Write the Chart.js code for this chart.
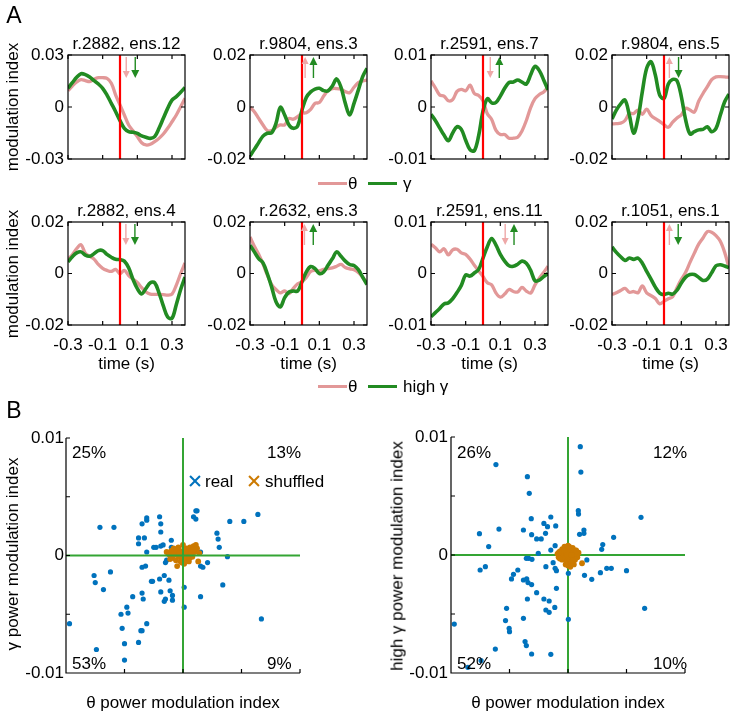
<!DOCTYPE html>
<html><head><meta charset="utf-8">
<script src="https://cdn.jsdelivr.net/npm/chart.js@4.4.1/dist/chart.umd.min.js"></script>
<style>
html,body{margin:0;padding:0;background:#fff;}
#wrap{position:relative;width:734px;height:715px;overflow:hidden;font-family:"Liberation Sans",Arial,sans-serif;color:#000;}
canvas.full{position:absolute;left:0;top:0;}
.t{position:absolute;font-size:17px;white-space:nowrap;line-height:1;}
.c{transform:translate(-50%,-50%);}
.l{transform:translate(0,-50%);}
.r{transform:translate(-50%,-50%) rotate(-90deg);}
.big{font-size:23px;}
.lg{position:absolute;height:3px;}
.xm{position:absolute;width:12px;height:12px;transform:translate(-50%,-50%);}
.xm:before,.xm:after{content:'';position:absolute;left:-1px;top:5px;width:14px;height:2px;background:currentColor;}
.xm:before{transform:rotate(45deg);} .xm:after{transform:rotate(-45deg);}
</style></head>
<body><div id="wrap"></div>
<script>
// ---------------- DATA ----------------
const time = [-0.3,-0.275,-0.25,-0.225,-0.2,-0.175,-0.15,-0.125,-0.1,-0.075,-0.05,-0.025,0,0.025,0.05,0.075,0.1,0.125,0.15,0.175,0.2,0.225,0.25,0.275,0.3,0.325,0.35,0.375];
const xTickValues = [-0.3,-0.1,0.1,0.3];
const panelTitles = ['r.2882, ens.12','r.9804, ens.3','r.2591, ens.7','r.9804, ens.5','r.2882, ens.4','r.2632, ens.3','r.2591, ens.11','r.1051, ens.1'];
const yLimits = [0.03,0.02,0.01,0.02,0.02,0.02,0.01,0.02];

const theta1 = [0.0094,0.0121,0.0144,0.0158,0.0152,0.0146,0.016,0.0169,0.0169,0.0165,0.0137,0.0069,0.0012,-0.0046,-0.0104,-0.0137,-0.0171,-0.0206,-0.0219,-0.0215,-0.02,-0.0181,-0.0156,-0.0123,-0.0085,-0.0046,0.0002,0.005];
const gamma1 = [0.0108,0.014,0.0171,0.0192,0.0187,0.0173,0.0152,0.0133,0.0108,0.0069,0.0021,-0.0027,-0.0079,-0.0123,-0.0142,-0.0146,-0.0152,-0.0167,-0.0175,-0.0181,-0.0171,-0.0123,-0.0065,-0.0008,0.004,0.006,0.0085,0.0113];
const theta2 = [-0.0001,-0.0018,-0.0044,-0.0069,-0.0091,-0.0091,-0.0078,-0.0069,-0.0069,-0.0044,-0.0047,-0.0037,-0.0024,-0.0022,-0.0009,0.0014,0.0017,0.0042,0.0063,0.0071,0.0071,0.0068,0.0059,0.0055,0.0076,0.0094,0.01,0.0104];
const gamma2 = [-0.0188,-0.0163,-0.0137,-0.0112,-0.0101,-0.0099,-0.0063,-0.0001,-0.0031,-0.0069,-0.0082,-0.0073,-0.0012,0.0037,0.0058,0.0069,0.0072,0.0063,0.0062,0.0081,0.0108,0.0076,0.0014,-0.0031,0.0014,0.0065,0.0117,0.0149];
const theta3 = [0.005,0.0037,0.0023,0.0021,0.0012,0.0014,0.003,0.0034,0.0031,0.0042,0.0026,0.0022,0.0012,-0.0013,-0.0024,-0.0045,-0.0053,-0.0053,-0.006,-0.006,-0.0058,-0.0046,-0.0026,-0.0001,0.0016,0.0024,0.0029,0.0038];
const gamma3 = [-0.0014,-0.0026,-0.004,-0.0054,-0.0065,-0.005,-0.0038,-0.0043,-0.0064,-0.0082,-0.0084,-0.0055,-0.0008,0.0016,0.0008,0.0009,0.0021,0.0036,0.0047,0.0048,0.0052,0.0048,0.0044,0.0062,0.0078,0.007,0.0052,0.0033];
const theta4 = [-0.0065,-0.0064,-0.0062,-0.0052,-0.0025,-0.0025,-0.0012,-0.0028,-0.0008,-0.0032,-0.0045,-0.0055,-0.0068,-0.0078,-0.0058,-0.0042,-0.003,-0.0005,-0.0012,-0.002,0.0022,0.0052,0.0078,0.0105,0.0116,0.0117,0.0116,0.0114];
const gamma4 = [-0.0046,-0.0012,0.0012,0.0027,-0.0031,-0.0101,-0.0044,0.0059,0.0149,0.0174,0.0123,0.0046,0.0033,0.0088,0.0106,0.0101,0.004,-0.005,-0.0104,-0.0095,-0.0088,-0.0086,-0.0076,-0.0095,-0.0082,-0.0031,0.002,0.005];
const theta5 = [0.0055,0.0073,0.0097,0.0112,0.0079,0.0067,0.0056,0.0035,0.002,0.0012,0.0008,0.0016,-0.0001,0.0012,-0.0008,-0.0022,-0.0035,-0.0055,-0.0072,-0.008,-0.0081,-0.0081,-0.0082,-0.0084,-0.008,-0.0045,0.0,0.0041];
const gamma5 = [0.0045,0.0065,0.008,0.0084,0.0071,0.0067,0.0077,0.0089,0.0089,0.0074,0.0063,0.0055,0.0054,0.0048,0.0022,-0.0023,-0.0059,-0.0079,-0.0058,-0.0036,-0.0036,-0.0075,-0.0126,-0.0169,-0.0174,-0.012,-0.0062,-0.0014];
const theta6 = [0.0142,0.0106,0.0075,0.0037,-0.0006,-0.0043,-0.0062,-0.0075,-0.0068,-0.0078,-0.0058,-0.004,-0.0032,-0.0015,0.0008,0.0012,0.001,0.0016,0.0019,0.0022,0.0028,0.0035,0.0023,0.0018,0.0015,0.0004,-0.0015,-0.0036];
const gamma6 = [0.011,0.0084,0.0058,0.0041,-0.0001,-0.0053,-0.011,-0.013,-0.0094,-0.0072,-0.0068,-0.0068,-0.0032,0.0006,0.0027,0.0019,0.0,0.0006,0.0032,0.0057,0.0084,0.0067,0.0048,0.0035,0.0031,0.0015,-0.0014,-0.0043];
const theta7 = [0.0057,0.005,0.0042,0.0048,0.0036,0.0046,0.0047,0.004,0.0037,0.0028,0.0016,0.0005,-0.0006,-0.0018,-0.0022,-0.0038,-0.0046,-0.004,-0.0031,-0.0035,-0.0036,-0.0027,-0.0034,-0.0038,-0.0022,-0.0009,0.0002,0.0014];
const gamma7 = [-0.0084,-0.0076,-0.0068,-0.0059,-0.0057,-0.0049,-0.0037,-0.0023,-0.0003,-0.0005,0.0001,0.0008,0.003,0.0052,0.0068,0.0055,0.0037,0.0024,0.0015,0.0014,0.0018,0.0024,0.002,0.0006,-0.0014,-0.0013,-0.0006,0.0];
const theta8 = [-0.0082,-0.0075,-0.0066,-0.0058,-0.0073,-0.007,-0.0075,-0.0048,-0.0075,-0.0086,-0.0097,-0.0118,-0.0108,-0.0098,-0.009,-0.0055,-0.0023,0.0005,0.0043,0.0079,0.0114,0.0138,0.0163,0.016,0.0147,0.0125,0.0082,0.0022];
const gamma8 = [0.0103,0.0082,0.0065,0.0051,0.006,0.0055,0.006,0.004,0.0008,-0.0022,-0.0053,-0.0076,-0.0082,-0.0077,-0.008,-0.0065,-0.0037,-0.0014,-0.0004,-0.0004,-0.0015,-0.0027,-0.0022,0.0003,0.003,0.0034,0.0029,0.0022];

const thetaArrowTime = [0.036,0.018,0.042,0.031,0.034,0.014,0.128,0.031];
const gammaArrowTime = [0.088,0.066,0.094,0.084,0.086,0.065,0.179,0.082];
const thetaArrowDir = ['down','up','down','up','down','up','down','up'];
const gammaArrowDir = ['down','up','up','down','down','up','up','down'];

const legendTopLabels = ['θ','γ'];
const legendBottomLabels = ['θ','high γ'];

// scatter B (left: theta vs gamma, right: theta vs high gamma)
const realThetaL = [-0.0097,-0.0071,-0.0059,-0.0076,-0.0075,-0.0068,-0.0062,-0.0074,-0.0053,-0.0048,
 -0.0047,-0.0052,-0.005,-0.005,-0.0043,-0.0038,-0.0036,-0.0035,-0.0031,-0.0035,
 -0.0034,-0.0035,-0.0032,-0.0038,-0.0038,-0.0033,-0.0035,-0.0031,-0.0031,-0.0031,
 -0.0025,-0.0023,-0.002,-0.0019,-0.0019,-0.0019,-0.0017,-0.0027,-0.0026,-0.002,
 -0.0016,-0.0019,-0.0016,-0.0015,-0.0011,-0.0009,-0.0009,-0.0012,-0.0015,-0.0014,
 -0.001,-0.001,0.0001,0.0001,0.0011,0.0012,0.0009,0.0011,0.0015,0.0015,
 0.0015,0.0017,0.0021,0.0029,0.003,0.0031,0.0038,0.0034,0.004,0.0052,0.0064,0.0067];
const realGammaL = [-0.0058,0.0024,0.0024,-0.0017,-0.0023,-0.0029,-0.0014,-0.008,-0.005,-0.0044,
 -0.0049,-0.0062,-0.0075,-0.0089,-0.0035,-0.0074,-0.0064,-0.0064,-0.0058,-0.0032,
 -0.0037,-0.001,-0.0009,0.0015,0.001,0.0015,0.0027,0.0032,0.003,0.0003,
 0.0007,0.0007,0.0033,0.0027,0.002,0.0008,0.0009,-0.0022,-0.0022,-0.002,
 -0.0017,-0.0031,-0.0039,-0.0037,-0.003,-0.0038,-0.0034,-0.0021,-0.0006,-0.0004,
 0.0013,0.0007,-0.0027,-0.0044,0.0038,0.0038,0.0033,0.0031,0.0003,-0.0035,
 -0.0009,-0.001,-0.0006,0.0019,0.0014,0.0007,-0.0001,-0.0025,0.0029,0.0029,0.0035,-0.0054];
const shufThetaL = [-0.0014,-0.0012,-0.001,-0.0009,-0.0008,-0.0007,-0.0006,-0.0005,-0.0005,-0.0004,
 -0.0003,-0.0003,-0.0002,-0.0001,0,0,0.0001,0.0001,0.0002,0.0003,
 0.0003,0.0004,0.0005,0.0005,0.0006,0.0007,0.0008,0.0009,0.001,0.0011,
 0.0012,0.0013,-0.0002,0,0.0002,-0.0001,0.0006,-0.0006,0.0014,-0.0011,0.0008,
 -0.0004,0.0004,-0.0008,0.0001,0.0007,-0.0003,0.0002,0.0009];
const shufGammaL = [0.0003,0.0001,0.0004,-0.0002,0.0006,0.0001,-0.0004,0.0003,-0.0009,0.0007,
 -0.0001,0.0004,-0.0005,0.0002,0.0009,-0.0003,0.0005,-0.0007,0.0001,-0.0003,
 0.0006,0.0002,-0.0005,0.0004,0.0007,0.0001,0.0005,0.0008,0.0003,0.0009,
 0.0006,-0.0005,0,0.0001,-0.0001,-0.0006,-0.0002,0.0005,0.0002,-0.0003,-0.0001,
 0,0,0.0002,-0.0002,0.0003,0.0002,0.0003,0.0005];

const realThetaR = [0.00105,0.0011,-0.00616,-0.00347,-0.00331,0.00088,0.0009,0.00624,-0.00314,-0.00147,
 -0.00206,-0.00175,-0.00105,-0.0059,-0.00381,-0.00757,-0.00311,-0.00192,0.00136,0.00136,
 0.00099,0.0039,-0.00268,-0.00229,-0.00678,0.00297,0.00288,-0.00254,-0.00147,-0.0011,
 -0.00356,-0.00336,-0.00308,-0.00127,-0.00189,-0.0011,-0.00099,-0.00706,-0.00751,-0.00429,
 -0.00466,-0.00483,-0.00381,-0.00353,-0.00342,-0.00311,-0.00268,-0.00099,-0.00347,-0.00206,
 -0.00161,-0.00189,-0.00161,-0.00113,-0.00525,0.00003,0.00003,0.00161,0.00141,0.00203,
 0.00277,0.00331,0.0037,0.005,0.00655,-0.00381,-0.00534,-0.00503,-0.005,-0.00972,
 -0.00621,-0.00743,-0.00856,-0.00367,-0.00356,-0.00311,-0.00147];
const realHighGammaR = [0.00918,0.00703,0.00766,0.00664,0.00523,0.00376,0.00347,0.00319,0.00308,0.00322,
 0.00268,0.0024,0.00246,0.0022,0.00212,0.00181,0.00172,0.00184,0.00212,0.00184,
 0.00175,0.0015,0.00136,0.00136,0.00071,0.00088,0.00048,0.00014,0.00042,0.00079,
 -0.00028,-0.00028,-0.00037,-0.00065,-0.00099,-0.00113,-0.00133,-0.00099,-0.00127,-0.00127,
 -0.00164,-0.00203,-0.00212,-0.00203,-0.00234,-0.00251,-0.00319,-0.00282,-0.00373,-0.00373,
 -0.0039,-0.00466,-0.00486,-0.00444,-0.00452,-0.00155,-0.00545,-0.00042,-0.00172,-0.00206,
 -0.0015,-0.00113,-0.00113,-0.00133,-0.00452,-0.00537,-0.00556,-0.00621,-0.0065,-0.00585,
 -0.00797,-0.00895,-0.00952,-0.00734,-0.00768,-0.00839,-0.00842];
const shufThetaR = [-0.0009,-0.0008,-0.0007,-0.0006,-0.0005,-0.0005,-0.0004,-0.0003,-0.0003,-0.0002,
 -0.0001,-0.0001,0,0,0,0.0001,0.0002,0.0002,0.0003,0.0003,
 0.0004,0.0004,0.0005,0.0006,0.0006,0.0007,0.0008,0.0009,0.0002,-0.0002,
 0.0001,-0.0004,0.0012,0.0005,-0.0006,-0.0007,0.0007,0,-0.0003,0.0004,
 0.0008,-0.0008,0.0001,-0.0001,0.0003];
const shufHighGammaR = [0.0001,-0.0002,0.0003,-0.0001,0.0005,-0.0004,0.0002,0.0007,-0.0003,0,
 0.0004,-0.0006,0.0008,0.0001,-0.0009,-0.0003,0.0005,-0.0001,0.0002,-0.0006,
 0.0006,-0.0002,0.0001,-0.0004,0.0004,0,-0.0002,0.0002,-0.001,-0.0008,
 0.0003,-0.0001,-0.0007,-0.0008,0.0002,-0.0003,0.0004,0.0004,0.0004,-0.0005,
 0.0001,0.0002,0.0007,0,0];
const scatterYTicks = [-0.01,-0.005,0,0.005,0.01];
const scatterXTicks = [-0.01,-0.005,0,0.005,0.01];
const quadrantPctL = ['25%','13%','53%','9%'];
const quadrantPctR = ['26%','12%','52%','10%'];

// ---------------- STYLE / LAYOUT ----------------
const PINK = 'rgb(226,152,152)', PINK_ARROW = 'rgb(238,168,168)', GREEN = 'rgb(34,139,34)', RED = 'rgb(255,0,0)';
const BLUE = 'rgb(0,114,189)', ORANGE = 'rgb(204,122,0)', ZGREEN = 'rgb(52,165,52)';
const FONT = '"Liberation Sans", Arial, sans-serif';
Chart.defaults.font.family = FONT; Chart.defaults.font.size = 17; Chart.defaults.color = '#000';
const W = 734, H = 715;
const COL_LEFT = [68,250,431,612], PLOT_W = 117;
const ROW_TOP = [55,222], ROW_BOTTOM = [159,325];
const SC_LEFT = [66,451], SC_W = 234, SC_TOP = [438,437], SC_BOTTOM = 673;

const wrap = document.getElementById('wrap');
function addCanvas(){ const c = document.createElement('canvas'); c.width = W; c.height = H; c.className = 'full'; wrap.appendChild(c); return c; }
function addText(txt, x, y, cls, extra){ const d = document.createElement('div'); d.className = 't ' + cls; d.textContent = txt; d.style.left = x + 'px'; d.style.top = y + 'px'; if (extra) Object.assign(d.style, extra); wrap.appendChild(d); return d; }

function drawArrow(ctx, px, y1, y2, dir, color, lw, head){
  ctx.strokeStyle = color; ctx.fillStyle = color; ctx.lineWidth = lw;
  const tip = dir === 'down' ? y2 : y1, tail = dir === 'down' ? y1 : y2, s = dir === 'down' ? -1 : 1;
  ctx.beginPath(); ctx.moveTo(px, tail); ctx.lineTo(px, tip + s * head * 0.7); ctx.stroke();
  ctx.beginPath(); ctx.moveTo(px, tip); ctx.lineTo(px - head * 0.5, tip + s * head); ctx.lineTo(px + head * 0.5, tip + s * head); ctx.closePath(); ctx.fill();
}
function zeroLines(chart){
  const {ctx, chartArea: a, scales: {x, y}} = chart;
  const x0 = x.getPixelForValue(0), y0 = y.getPixelForValue(0);
  ctx.save(); ctx.strokeStyle = ZGREEN; ctx.lineWidth = 2;
  ctx.beginPath(); ctx.moveTo(x0, a.top); ctx.lineTo(x0, a.bottom); ctx.moveTo(a.left, y0); ctx.lineTo(a.right, y0); ctx.stroke();
  ctx.restore();
}
const deco = {
  id: 'deco',
  beforeDatasetsDraw(chart, args, o){ if (o.kind === 'scatter' && !o.linesOnTop) zeroLines(chart); },
  afterDatasetsDraw(chart, args, o){
    const {ctx, chartArea: a, scales: {x, y}} = chart;
    ctx.save();
    if (o.kind === 'line'){
      const x0 = x.getPixelForValue(0);
      ctx.strokeStyle = RED; ctx.lineWidth = 2.2;
      ctx.beginPath(); ctx.moveTo(x0, a.top); ctx.lineTo(x0, a.bottom); ctx.stroke();
      drawArrow(ctx, x.getPixelForValue(o.thetaT), a.top + 2, a.top + 23, o.thetaDir, PINK_ARROW, 1.4, 7);
      drawArrow(ctx, x.getPixelForValue(o.gammaT), a.top + 2, a.top + 23, o.gammaDir, GREEN, 1.4, 8);
      ctx.strokeStyle = '#000'; ctx.lineWidth = 1.2;
      ctx.strokeRect(a.left, a.top, a.right - a.left, a.bottom - a.top);
      ctx.beginPath();
      x.ticks.forEach(t => { const p = x.getPixelForValue(t.value); ctx.moveTo(p, a.bottom); ctx.lineTo(p, a.bottom - 4); ctx.moveTo(p, a.top); ctx.lineTo(p, a.top + 4); });
      y.ticks.forEach(t => { const p = y.getPixelForValue(t.value); ctx.moveTo(a.left, p); ctx.lineTo(a.left + 4, p); ctx.moveTo(a.right, p); ctx.lineTo(a.right - 4, p); });
      ctx.stroke();
    } else {
      if (o.linesOnTop) zeroLines(chart);
      ctx.strokeStyle = '#000'; ctx.lineWidth = 1.2;
      ctx.beginPath(); ctx.moveTo(a.left, a.top); ctx.lineTo(a.left, a.bottom); ctx.lineTo(a.right, a.bottom);
      y.ticks.forEach(t => { const p = y.getPixelForValue(t.value); ctx.moveTo(a.left, p); ctx.lineTo(a.left + 4, p); });
      x.ticks.forEach(t => { const p = x.getPixelForValue(t.value); ctx.moveTo(p, a.bottom); ctx.lineTo(p, a.bottom - 4); });
      ctx.stroke();
    }
    ctx.restore();
  }
};

const thetaSeries = [theta1,theta2,theta3,theta4,theta5,theta6,theta7,theta8];
const gammaSeries = [gamma1,gamma2,gamma3,gamma4,gamma5,gamma6,gamma7,gamma8];
const toPts = (xs, ys) => xs.map((v, k) => ({x: v, y: ys[k]}));

function linePanel(i){
  const row = Math.floor(i / 4), col = i % 4;
  const L = COL_LEFT[col], R = L + PLOT_W, T = ROW_TOP[row], B = ROW_BOTTOM[row];
  const xH = row === 1 ? 26 : 0, yW = 50, lim = yLimits[i];
  new Chart(addCanvas(), {
    type: 'line',
    data: {datasets: [
      {label: row ? 'high γ' : 'γ', data: toPts(time, gammaSeries[i]), borderColor: GREEN, borderWidth: 3.6, pointRadius: 0, tension: 0.35},
      {label: 'θ', data: toPts(time, thetaSeries[i]), borderColor: PINK, borderWidth: 3.3, pointRadius: 0, tension: 0.35}
    ]},
    options: {
      responsive: false, animation: false, events: [],
      layout: {padding: {left: L - yW, right: W - R, top: T, bottom: H - B - xH}},
      plugins: {legend: {display: false}, tooltip: {enabled: false},
        deco: {kind: 'line', thetaT: thetaArrowTime[i], gammaT: gammaArrowTime[i], thetaDir: thetaArrowDir[i], gammaDir: gammaArrowDir[i]}},
      scales: {
        x: {type: 'linear', min: -0.3, max: 0.375, grid: {display: false, drawTicks: false}, border: {display: false},
          ticks: {display: row === 1, padding: 10, maxRotation: 0, minRotation: 0, autoSkip: false, callback: v => String(v)},
          afterBuildTicks: s => { s.ticks = xTickValues.map(v => ({value: v})); },
          afterFit: s => { s.height = xH; s.paddingLeft = 0; s.paddingRight = 0; }},
        y: {type: 'linear', min: -lim, max: lim, grid: {display: false, drawTicks: false}, border: {display: false},
          ticks: {padding: 4, autoSkip: false, callback: v => String(v)},
          afterBuildTicks: s => { s.ticks = [{value: -lim}, {value: 0}, {value: lim}]; },
          afterFit: s => { s.width = yW; s.paddingTop = 0; s.paddingBottom = 0; }}
      }
    },
    plugins: [deco]
  });
  const cx = L + PLOT_W / 2;
  addText(panelTitles[i], cx, T - 12, 'c');
  if (row === 1) addText('time (s)', cx, 363, 'c');
}

function scatterPanel(k){
  const L = SC_LEFT[k], R = L + SC_W, T = SC_TOP[k], B = SC_BOTTOM, yW = 45;
  const rx = k ? realThetaR : realThetaL, ry = k ? realHighGammaR : realGammaL;
  const sx = k ? shufThetaR : shufThetaL, sy = k ? shufHighGammaR : shufGammaL;
  new Chart(addCanvas(), {
    type: 'scatter',
    data: {datasets: [
      {label: 'shuffled', data: toPts(sx, sy), backgroundColor: ORANGE, pointRadius: 2.9, borderWidth: 0},
      {label: 'real', data: toPts(rx, ry), backgroundColor: BLUE, pointRadius: 2.6, borderWidth: 0}
    ]},
    options: {
      responsive: false, animation: false, events: [],
      layout: {padding: {left: L - yW, right: W - R, top: T, bottom: H - B}},
      plugins: {legend: {display: false}, tooltip: {enabled: false}, deco: {kind: 'scatter', linesOnTop: k === 0}},
      scales: {
        x: {type: 'linear', min: -0.01, max: 0.01, grid: {display: false, drawTicks: false}, border: {display: false},
          ticks: {display: false},
          afterBuildTicks: s => { s.ticks = scatterXTicks.map(v => ({value: v})); },
          afterFit: s => { s.height = 0; s.paddingLeft = 0; s.paddingRight = 0; }},
        y: {type: 'linear', min: -0.01, max: 0.01, grid: {display: false, drawTicks: false}, border: {display: false},
          ticks: {padding: k ? 3 : 2, autoSkip: false, callback: v => (Math.abs(v) === 0.005 ? '' : String(v))},
          afterBuildTicks: s => { s.ticks = scatterYTicks.map(v => ({value: v})); },
          afterFit: s => { s.width = yW; s.paddingTop = 0; s.paddingBottom = 0; }}
      }
    },
    plugins: [deco]
  });
  const pct = k ? quadrantPctR : quadrantPctL;
  const rightX = k ? 653 : 267;
  addText(pct[0], L + 6, 452, 'l');
  addText(pct[1], rightX, 452, 'l');
  addText(pct[2], L + 6, 663, 'l');
  addText(pct[3], rightX, 663, 'l');
  addText('θ power modulation index', L + SC_W / 2, 702, 'c');
}

for (let i = 0; i < 8; i++) linePanel(i);
scatterPanel(0); scatterPanel(1);

// labels, legends
addText('A', 14, 15, 'c big');
addText('B', 14, 410, 'c big');
addText('modulation index', 12, 107, 'r');
addText('modulation index', 12, 274, 'r');
addText('γ power modulation index', 12, 554, 'r');
addText('high γ power modulation index', 397, 556, 'r');

function legendRow(y, labels){
  const p = document.createElement('div'); p.className = 'lg'; Object.assign(p.style, {left: '318px', width: '29px', top: (y - 1.5) + 'px', background: PINK}); wrap.appendChild(p);
  addText(labels[0], 348, y, 'l');
  const g = document.createElement('div'); g.className = 'lg'; Object.assign(g.style, {left: '368px', width: '29px', top: (y - 1.5) + 'px', background: GREEN}); wrap.appendChild(g);
  addText(labels[1], 403, y, 'l');
}
legendRow(183, legendTopLabels);
legendRow(386, legendBottomLabels);

// scatter legend
const xb = document.createElement('div'); xb.className = 'xm'; Object.assign(xb.style, {left: '195px', top: '481px', color: BLUE}); wrap.appendChild(xb);
addText('real', 205, 481, 'l');
const xo = document.createElement('div'); xo.className = 'xm'; Object.assign(xo.style, {left: '254px', top: '481px', color: ORANGE}); wrap.appendChild(xo);
addText('shuffled', 265, 481, 'l');
</script>
</body></html>
